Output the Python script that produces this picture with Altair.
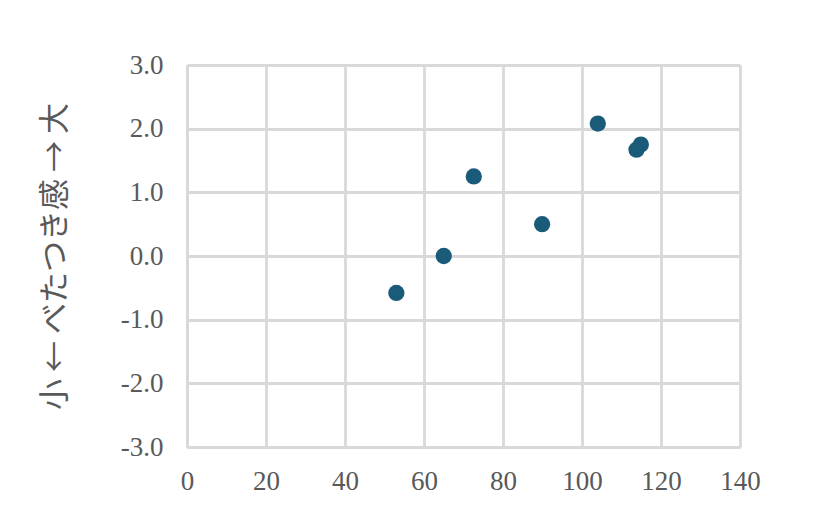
import altair as alt
import pandas as pd

x_vals = [53.0, 65.0, 72.6, 89.9, 104.0, 113.8, 114.9]
y_vals = [-0.58, 0.0, 1.25, 0.50, 2.08, 1.67, 1.75]

df = pd.DataFrame({"x": x_vals, "y": y_vals})

grid_color = "#d9d9d9"
label_color = "#595959"

ylabel_expr = "datum.value < 0 ? '-' + format(-datum.value, '.1f') : format(datum.value, '.1f')"

chart = alt.Chart(df).mark_circle(size=265, opacity=1, color="#1b5b7a").encode(
    x=alt.X("x:Q", scale=alt.Scale(domain=[0, 140], nice=False),
            axis=alt.Axis(values=[0, 20, 40, 60, 80, 100, 120, 140], title=None,
                          labelFont="Liberation Serif", labelFontSize=27, labelColor=label_color,
                          labelFlush=False, labelOverlap=False,
                          ticks=False, tickSize=0, labelPadding=21,
                          gridColor=grid_color, gridWidth=2.8,
                          domainColor=grid_color, domainWidth=2.8)),
    y=alt.Y("y:Q", scale=alt.Scale(domain=[-3, 3], nice=False),
            axis=alt.Axis(values=[-3, -2, -1, 0, 1, 2, 3], labelExpr=ylabel_expr,
                          title="小 ← べたつき感 → 大",
                          titleFont="Noto Sans CJK JP", titleFontSize=31, titleFontWeight="normal",
                          titleColor=label_color, titleX=-132, titleY=191, titleAngle=-90,
                          titleAlign="center", titleBaseline="middle",
                          labelFont="Liberation Serif", labelFontSize=27, labelColor=label_color,
                          labelFlush=False, labelOverlap=False,
                          ticks=False, tickSize=0, labelPadding=24,
                          gridColor=grid_color, gridWidth=2.8,
                          domainColor=grid_color, domainWidth=2.8)),
).properties(
    width=553, height=382,
    autosize=alt.AutoSizeParams(type="none"),
    padding={"left": 179, "top": 57, "right": 70, "bottom": 60},
).configure_view(stroke=None).configure(background="white")

chart.save("out.html", embed_options={"renderer": "svg", "actions": False})
